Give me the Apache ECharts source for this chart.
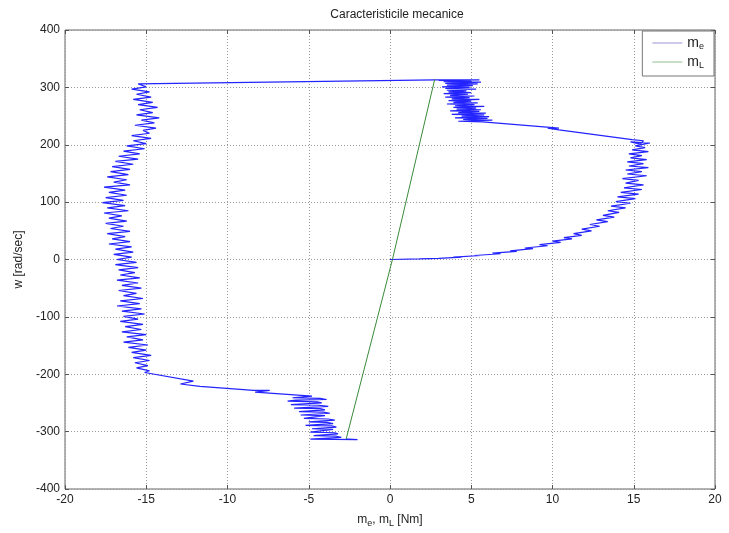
<!DOCTYPE html>
<html>
<head>
<meta charset="utf-8">
<script src="https://cdn.jsdelivr.net/npm/echarts@6/dist/echarts.min.js"></script>
<style>
  html, body { margin: 0; padding: 0; background: #fff; }
  #chart { width: 729px; height: 533px; }
</style>
</head>
<body>
<div id="chart"></div>
<script>
// m_e trajectory in pieces: [m_e (Nm), w (rad/sec)]
// start-up: from rest out to the right lobe
const meRise = [
  [0.0, 0], [1.8, 1], [3.0, 2], [4.4, 4], [3.9, 4], [5.6, 7], [5.2, 7], [6.8, 10], [6.3, 11],
  [7.8, 14], [7.4, 15], [8.8, 19], [8.3, 20], [9.7, 24], [9.2, 26], [10.5, 30], [10.0, 32],
  [11.2, 36], [10.7, 38], [11.8, 42], [11.3, 45], [12.4, 50], [11.8, 53], [12.9, 58], [12.3, 61],
  [13.4, 66], [12.7, 69], [13.8, 74], [13.1, 77], [14.1, 82], [13.4, 85], [14.5, 90], [13.6, 93],
  [14.8, 98], [13.9, 101], [15.1, 106], [14.0, 109], [15.3, 114], [14.2, 117], [15.5, 122],
  [14.4, 125], [15.6, 130], [14.5, 133], [15.3, 138], [14.3, 141], [15.8, 146], [14.6, 149],
  [15.5, 153], [14.5, 156], [15.9, 160], [14.7, 163], [15.6, 167], [14.6, 170], [15.8, 174],
  [14.8, 177], [15.5, 181], [14.7, 184], [15.9, 188], [14.9, 191], [15.7, 195], [15.1, 198],
  [16.0, 203], [14.8, 205], [15.4, 201], [15.6, 207], [14.9, 209],
  [10.4, 226], [9.7, 229], [10.4, 229], [5.7, 240]
];
// band near +313 rad/sec
const meTopBand = [
  [4.2, 241], [6.3, 243], [4.5, 244], [6.0, 246], [4.0, 247], [6.1, 249], [4.4, 250], [5.8, 252],
  [3.8, 253], [5.9, 255], [4.2, 256], [5.5, 258], [3.7, 259], [5.6, 261], [4.1, 262], [5.3, 264],
  [3.9, 265], [5.8, 267], [4.0, 268], [5.2, 270], [3.5, 271], [5.4, 273], [3.9, 274], [5.0, 276],
  [3.6, 277], [5.5, 279], [3.8, 280], [4.9, 282], [3.4, 283], [5.2, 285], [3.7, 286], [4.8, 288],
  [3.3, 289], [5.0, 291], [3.6, 292], [4.7, 294], [3.5, 295], [5.3, 297], [3.4, 298], [4.9, 300],
  [3.2, 301], [5.1, 303], [3.5, 304], [5.4, 306], [3.4, 307], [5.6, 309], [3.3, 310], [5.0, 311],
  [3.0, 312], [5.5, 313], [2.8, 313]
];
// reversal: left band going down
const meLeftBand = [
  [-15.5, 306], [-15.0, 301], [-15.9, 297], [-14.8, 292], [-15.6, 288], [-14.7, 283], [-15.8, 279],
  [-14.6, 274], [-15.5, 270], [-14.3, 265], [-15.4, 261], [-14.6, 256], [-15.6, 252], [-14.2, 247],
  [-15.3, 243], [-14.5, 238], [-15.7, 234], [-14.4, 229], [-15.2, 225], [-14.8, 220], [-15.9, 216],
  [-14.7, 211], [-15.8, 207], [-15.0, 202], [-16.2, 198], [-15.1, 193], [-16.4, 189], [-15.4, 184],
  [-16.7, 180], [-15.5, 175], [-16.9, 171], [-15.8, 166], [-17.1, 162], [-16.0, 157], [-17.2, 153],
  [-16.1, 148], [-17.4, 144], [-16.2, 139], [-17.0, 135], [-16.0, 130], [-17.6, 126], [-16.3, 121],
  [-17.3, 117], [-16.2, 112], [-17.5, 108], [-16.4, 103], [-17.7, 99], [-16.3, 94], [-17.4, 90],
  [-16.1, 85], [-17.6, 81], [-16.5, 76], [-17.3, 72], [-16.2, 67], [-17.5, 63], [-16.4, 58],
  [-17.2, 54], [-16.0, 49], [-17.4, 45], [-16.3, 40], [-17.1, 36], [-16.0, 31], [-17.3, 27],
  [-15.9, 22], [-16.9, 18], [-15.8, 13], [-17.0, 9], [-15.9, 4], [-16.8, 0], [-15.6, -5],
  [-16.9, -9], [-15.5, -14], [-16.7, -18], [-15.7, -23], [-16.6, -27], [-15.4, -32], [-16.8, -36],
  [-15.5, -41], [-16.5, -45], [-15.3, -50], [-16.7, -54], [-15.6, -59], [-16.4, -63], [-15.2, -68],
  [-16.6, -72], [-15.4, -77], [-16.8, -81], [-15.3, -86], [-16.5, -90], [-15.1, -95], [-16.4, -99],
  [-15.5, -104], [-16.6, -108], [-15.2, -113], [-16.3, -117], [-15.3, -122], [-16.5, -126],
  [-15.0, -131], [-16.2, -135], [-15.2, -140], [-16.4, -144], [-14.9, -149], [-16.1, -153],
  [-15.0, -158], [-15.9, -162], [-14.7, -167], [-15.8, -171], [-14.8, -176], [-15.7, -180],
  [-14.9, -185], [-15.6, -189], [-14.8, -194], [-15.1, -197],
  [-12.1, -212], [-12.9, -217], [-11.7, -221], [-8.4, -228], [-7.4, -228], [-8.3, -231], [-4.8, -238]
];
// band near -313 rad/sec
const meBottomBand = [
  [-6.0, -241], [-4.3, -242], [-3.9, -244], [-5.8, -245], [-6.3, -247], [-4.5, -248], [-4.2, -250],
  [-6.1, -253], [-4.4, -254], [-3.8, -256], [-5.9, -259], [-4.3, -260], [-4.0, -262], [-5.6, -265],
  [-4.1, -266], [-3.7, -268], [-5.5, -271], [-4.0, -272], [-3.9, -274], [-5.3, -277], [-3.8, -278],
  [-3.4, -280], [-5.0, -283], [-3.9, -284], [-3.5, -286], [-5.2, -289], [-3.6, -290], [-3.3, -292],
  [-4.8, -295], [-3.5, -296], [-3.6, -298], [-4.9, -301], [-3.4, -302], [-3.2, -304], [-4.7, -307],
  [-3.3, -308], [-3.0, -310], [-4.9, -313], [-2.0, -314], [-2.7, -313]
];
// load torque line m_L
const mL = [[-2.7, -313], [0.15, 0], [2.75, 314]];

const xTicks = [-20, 20, 5];
const yTicks = [-400, 400, 100];

const meData = meRise.concat(meTopBand, meLeftBand, meBottomBand);

const font = 'Liberation Sans, Arial, sans-serif';
const subStyle = { fontSize: 9, fontFamily: font, color: '#222', padding: [7, 0, 0, 0] };
const gridLine = { show: true, lineStyle: { color: '#999', type: [1, 2], width: 1 } };
const tick = { inside: true, length: 4, lineStyle: { color: '#555' } };
const label = { fontSize: 12, color: '#222', fontFamily: font, margin: 5 };
const noLine = { show: false, onZero: false };

const chart = echarts.init(document.getElementById('chart'));
chart.setOption({
  animation: false,
  backgroundColor: '#fff',
  title: {
    text: 'Caracteristicile mecanice',
    left: 392,
    textAlign: 'center',
    top: 4,
    textStyle: { fontSize: 12, fontWeight: 'normal', color: '#222', fontFamily: font }
  },
  legend: {
    orient: 'vertical',
    right: 15,
    top: 31,
    padding: [5, 10, 6, 10],
    itemGap: 4,
    itemWidth: 30,
    itemHeight: 1,
    icon: 'rect',
    borderColor: '#777',
    borderWidth: 1,
    backgroundColor: '#fff',
    data: ['me', 'mL'],
    formatter: function (name) {
      return name === 'me' ? 'm{sub|e}' : 'm{sub|L}';
    },
    textStyle: {
      fontSize: 14, color: '#222', fontFamily: font,
      rich: { sub: subStyle }
    }
  },
  grid: {
    left: 65, right: 14, top: 30, bottom: 43,
    show: true, borderColor: '#666', borderWidth: 1
  },
  xAxis: [{
    type: 'value', position: 'bottom',
    min: xTicks[0], max: xTicks[1], interval: xTicks[2],
    name: 'm{sub|e}, m{sub|L} [Nm]',
    nameLocation: 'middle',
    nameGap: 23,
    nameTextStyle: { fontSize: 12, color: '#222', fontFamily: font, rich: { sub: subStyle } },
    axisLine: noLine,
    axisTick: tick,
    axisLabel: label,
    splitLine: gridLine
  }, {
    type: 'value', position: 'top',
    min: xTicks[0], max: xTicks[1], interval: xTicks[2],
    axisLine: noLine, axisTick: tick,
    axisLabel: { show: false }, splitLine: { show: false }
  }],
  yAxis: [{
    type: 'value', position: 'left',
    min: yTicks[0], max: yTicks[1], interval: yTicks[2],
    name: 'w [rad/sec]',
    nameLocation: 'middle',
    nameGap: 40,
    nameRotate: 90,
    nameTextStyle: { fontSize: 12, color: '#222', fontFamily: font },
    axisLine: noLine,
    axisTick: tick,
    axisLabel: label,
    splitLine: gridLine
  }, {
    type: 'value', position: 'right',
    min: yTicks[0], max: yTicks[1], interval: yTicks[2],
    axisLine: noLine, axisTick: tick,
    axisLabel: { show: false }, splitLine: { show: false }
  }],
  series: [
    {
      name: 'me',
      type: 'line',
      data: meData,
      showSymbol: false,
      lineStyle: { color: '#2424ff', width: 1.2 },
      itemStyle: { color: '#9c94d8' }
    },
    {
      name: 'mL',
      type: 'line',
      data: mL,
      showSymbol: false,
      lineStyle: { color: '#3a8a3a', width: 1 },
      itemStyle: { color: '#8cbf8c' }
    }
  ]
});
</script>
</body>
</html>
